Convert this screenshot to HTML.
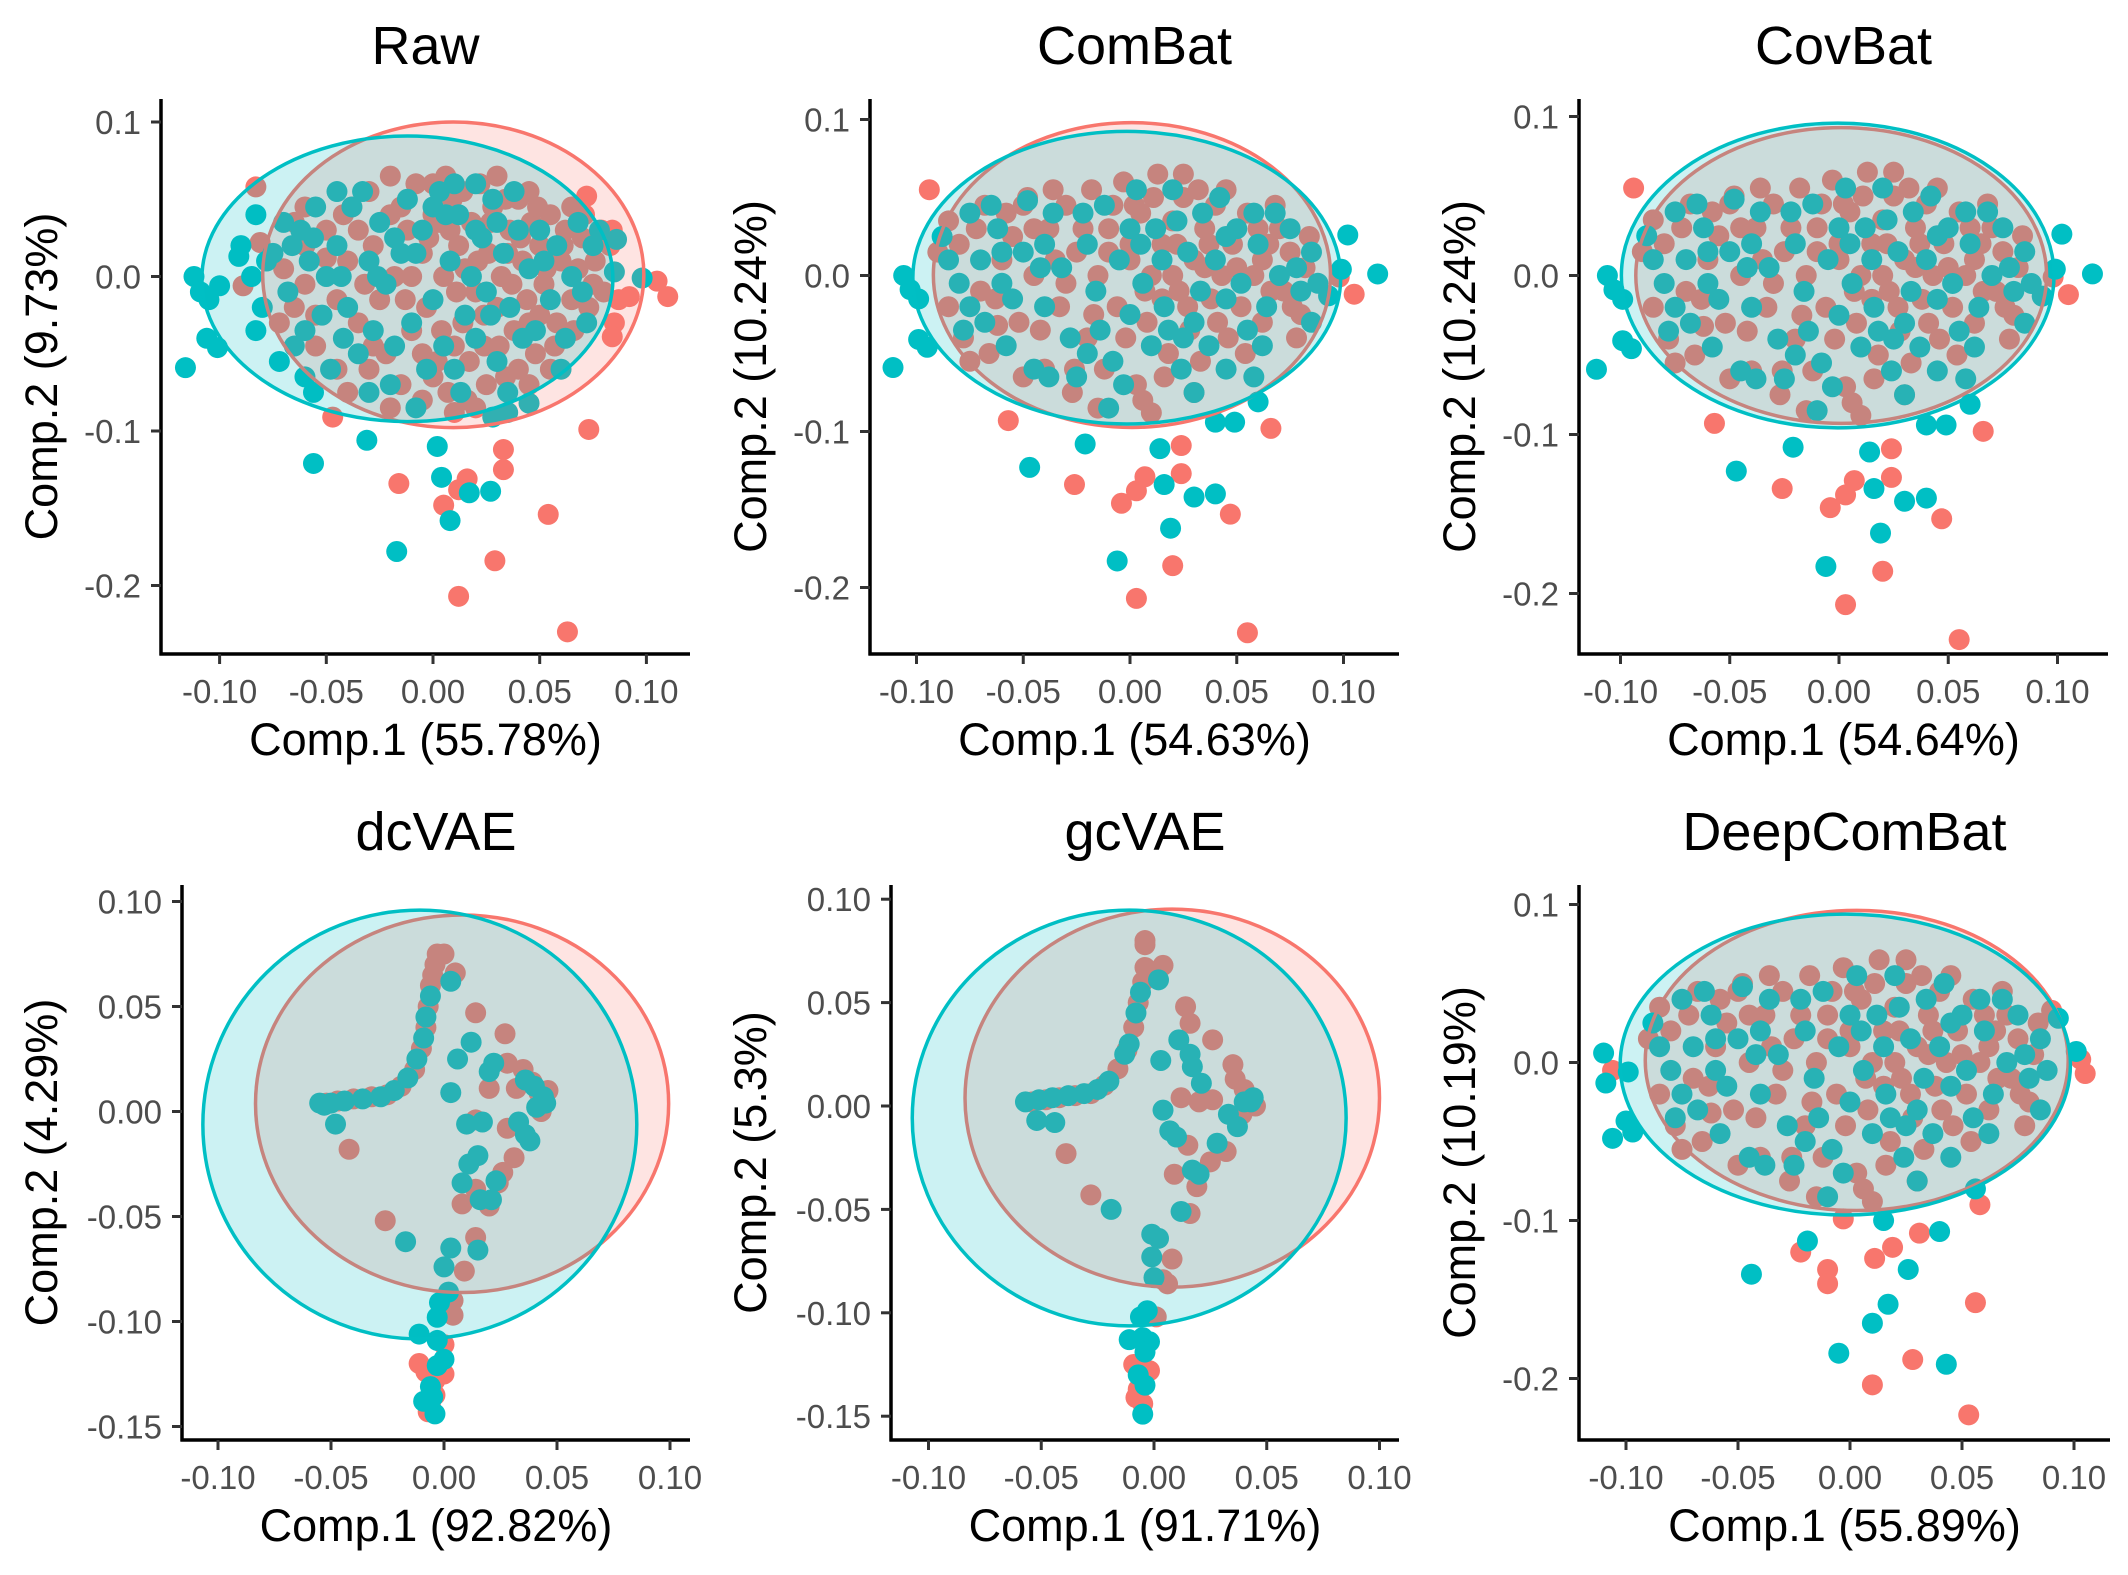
<!DOCTYPE html>
<html><head><meta charset="utf-8"><title>PCA panels</title>
<style>
html,body{margin:0;padding:0;background:#fff;}
svg{display:block;font-family:"Liberation Sans",Arial,sans-serif;}
</style></head>
<body>
<svg id="fig" xmlns="http://www.w3.org/2000/svg" width="2128" height="1575" viewBox="0 0 2128 1575">
<rect x="0" y="0" width="2128" height="1575" fill="#fff"/>
</svg>
<script>
// ---- tick data ----
const xTicks = [-0.10, -0.05, 0, 0.05, 0.10];
const xTickLabels = ["-0.10", "-0.05", "0.00", "0.05", "0.10"];
const yTicksA = [0.1, 0, -0.1, -0.2];
const yTickLabelsA = ["0.1", "0.0", "-0.1", "-0.2"];
const yTicksB = [0.10, 0.05, 0, -0.05, -0.10, -0.15];
const yTickLabelsB = ["0.10", "0.05", "0.00", "-0.05", "-0.10", "-0.15"];

// ---- ellipses [cx, cy, rx, ry] ----
const rawEllRed = [0.0095, 0.0011, 0.0893, 0.0989];
const rawEllTeal = [-0.012, -0.0015, 0.0963, 0.0924];
const cbEllRed = [0.0009, 0.0003, 0.093, 0.0977];
const cbEllTeal = [-0.0015, -0.0014, 0.1002, 0.0938];
const cvEllRed = [0.001, 0, 0.094, 0.093];
const cvEllTeal = [-0.0006, 0, 0.099, 0.0958];
const dcEllRed = [0.008, 0.0037, 0.0914, 0.0899];
const dcEllTeal = [-0.0107, -0.0062, 0.096, 0.1021];
const gcEllRed = [0.0081, 0.0038, 0.0919, 0.0914];
const gcEllTeal = [-0.011, -0.0058, 0.0962, 0.1005];
const dpEllRed = [0.003, 0.0013, 0.0944, 0.095];
const dpEllTeal = [-0.0021, -0.0013, 0.1005, 0.0952];

// ---- Raw points ----
const rawRed = [[-0.083,0.058],[-0.047,-0.091],[-0.016,-0.134],[0.005,-0.148],[0.012,-0.138],[0.016,-0.131],[0.033,-0.112],[0.033,-0.125],[0.029,-0.184],[0.012,-0.207],[0.063,-0.230],[0.054,-0.154],[0.073,-0.099],[0.072,0.052],[0.084,0.030],[0.105,-0.003],[0.110,-0.013],[0.092,-0.013],[0.087,-0.015],[0.085,-0.030],[0.084,-0.039],[-0.089,-0.006],[-0.081,0.022],
[-0.07,0.005],[-0.065,-0.02],[-0.06,0.02],[-0.072,-0.03],[-0.055,-0.045],[-0.05,0.03],[-0.045,-0.06],[-0.04,0.01],[-0.038,0.045],[-0.035,-0.03],[-0.03,0.055],[-0.028,0.02],[-0.025,-0.015],[-0.022,-0.05],[-0.02,0.04],[-0.018,0.0],[-0.015,-0.07],[-0.012,0.03],[-0.01,-0.035],[-0.008,0.06],[-0.005,0.015],[-0.003,-0.02],[0.0,0.04],[0.002,-0.055],[0.005,0.0],[0.007,-0.075],[0.009,0.05],[0.012,0.02],[0.014,-0.03],[0.016,-0.08],[0.018,0.035],[0.02,-0.01],[0.022,0.06],[0.024,-0.045],[0.026,0.015],[0.028,0.045],[0.03,-0.02],[0.032,0.0],[0.034,-0.065],[0.036,0.03],[0.038,-0.035],[0.04,0.05],[0.042,0.01],[0.044,-0.015],[0.046,0.035],[0.048,-0.05],[0.05,0.02],[0.052,-0.005],[0.055,0.04],[0.058,-0.03],[0.06,0.01],[0.062,0.03],[0.065,-0.015],[0.068,0.005],[0.07,0.025],[0.073,-0.02],[0.076,0.01],[0.08,-0.01],[0.083,0.02],[-0.06,-0.005],[-0.045,-0.015],[-0.035,0.03],[0.01,-0.045],[0.0,0.06],[-0.02,0.065],[0.045,0.055],[0.055,-0.06],[0.025,-0.07],[-0.005,-0.08],[0.065,0.045],[0.003,0.035],[0.015,0.005],[0.035,0.015],[-0.01,0.0],[0.05,-0.025],[-0.03,-0.06],[-0.05,0.012],
[-0.065,0.035],[-0.055,-0.025],[-0.042,0.04],[-0.032,-0.005],[-0.028,-0.045],[-0.015,0.045],[-0.013,-0.015],[-0.005,-0.05],[-0.002,0.025],[0.004,-0.035],[0.008,0.03],[0.011,-0.01],[0.014,0.055],[0.017,-0.055],[0.021,0.01],[0.024,-0.025],[0.027,0.035],[0.031,-0.045],[0.034,0.05],[0.037,-0.005],[0.041,0.025],[0.045,-0.03],[0.049,0.045],[0.053,0.005],[0.057,-0.045],[0.061,0.02],[0.066,-0.035],[0.071,0.04],[0.075,-0.005],[0.079,0.03],[0.006,0.065],[0.03,0.065],[-0.04,-0.075],[0.02,-0.085],[0.045,-0.07],[-0.06,0.045],[0.0,-0.065],[0.04,-0.06],[-0.02,-0.085],[0.01,-0.088]];
const rawTeal = [[-0.116,-0.059],[-0.112,0.0],[-0.109,-0.010],[-0.105,-0.015],[-0.100,-0.006],[-0.106,-0.040],[-0.101,-0.046],[-0.091,0.013],[-0.083,0.040],[-0.056,-0.121],[-0.031,-0.106],[-0.017,-0.178],[0.002,-0.110],[0.004,-0.130],[0.008,-0.158],[0.017,-0.140],[0.027,-0.139],[-0.056,-0.075],[0.045,-0.082],[0.098,-0.001],[0.085,0.003],[0.086,0.024],[0.028,-0.091],[0.035,-0.088],
[-0.085,0.0],[-0.08,-0.02],[-0.075,0.015],[-0.07,0.035],[-0.068,-0.01],[-0.062,0.03],[-0.06,-0.035],[-0.055,0.045],[-0.05,0.0],[-0.048,-0.06],[-0.045,0.02],[-0.04,-0.02],[-0.038,0.045],[-0.035,-0.05],[-0.03,0.01],[-0.028,-0.035],[-0.025,0.035],[-0.022,-0.005],[-0.02,-0.07],[-0.015,0.015],[-0.012,0.05],[-0.01,-0.03],[-0.008,-0.085],[-0.005,0.03],[0.0,-0.015],[0.003,0.055],[0.005,-0.045],[0.008,0.01],[0.01,-0.06],[0.012,0.04],[0.015,-0.025],[0.018,0.0],[0.02,-0.04],[0.023,0.025],[0.025,-0.01],[0.028,0.05],[0.03,-0.055],[0.033,0.015],[0.036,-0.02],[0.04,0.03],[0.042,-0.04],[0.045,0.005],[0.05,0.03],[0.055,-0.015],[0.058,0.02],[0.062,-0.04],[0.065,0.0],[0.07,-0.01],[0.075,0.02],[0.078,0.03],[-0.078,0.01],[-0.058,0.01],[-0.042,-0.04],[-0.018,0.025],[0.0,0.045],[0.02,0.06],[-0.03,-0.075],[0.035,-0.075],[-0.065,-0.045],[0.06,-0.06],
[-0.09,0.02],[-0.083,-0.035],[-0.072,-0.055],[-0.066,0.02],[-0.056,0.025],[-0.052,-0.025],[-0.043,0.0],[-0.033,0.055],[-0.026,0.0],[-0.018,-0.045],[-0.008,0.015],[-0.003,-0.06],[0.006,0.04],[0.013,-0.075],[0.02,0.03],[0.027,-0.025],[0.038,0.055],[0.048,-0.035],[0.052,0.01],[0.068,0.035],[0.072,-0.03],[-0.06,-0.065],[-0.045,0.055],[0.01,0.06],[0.03,0.035]];

// ---- ComBat-like cloud (ComBat / CovBat / DeepComBat) ----
const cbCloudRed = [[-0.09,0.015],[-0.085,-0.02],[-0.08,0.02],[-0.078,-0.04],[-0.072,0.03],[-0.07,-0.01],[-0.066,-0.05],[-0.06,0.01],[-0.058,0.04],[-0.052,-0.03],[-0.048,0.05],[-0.045,0.0],[-0.04,-0.06],[-0.038,0.03],[-0.033,-0.02],[-0.03,0.045],[-0.027,-0.075],[-0.025,0.015],[-0.02,-0.04],[-0.018,0.055],[-0.015,0.0],[-0.012,-0.06],[-0.01,0.03],[-0.006,-0.02],[-0.003,0.06],[0.0,0.01],[0.003,-0.07],[0.005,0.04],[0.008,-0.03],[0.01,0.0],[0.013,0.065],[0.015,0.02],[0.018,-0.05],[0.02,0.035],[0.023,-0.01],[0.025,0.05],[0.028,-0.035],[0.03,0.01],[0.033,-0.055],[0.035,0.03],[0.038,-0.015],[0.04,0.045],[0.043,0.0],[0.046,-0.04],[0.048,0.02],[0.052,-0.02],[0.055,0.04],[0.058,0.0],[0.062,-0.03],[0.065,0.02],[0.068,0.045],[0.072,-0.01],[0.075,0.015],[0.078,-0.04],[0.08,-0.025],[0.082,0.005],[-0.026,-0.06],[0.006,-0.08],[0.045,0.055],[-0.05,0.045],[0.0,0.02],[0.02,0.0],[0.035,0.005],[-0.035,0.01],[0.015,-0.015],[-0.062,-0.032],[0.062,0.01],
[-0.085,0.035],[-0.075,-0.055],[-0.068,0.045],[-0.063,-0.015],[-0.055,0.025],[-0.05,-0.065],[-0.042,-0.035],[-0.036,0.055],[-0.03,-0.005],[-0.022,0.03],[-0.017,-0.025],[-0.008,0.045],[-0.002,-0.04],[0.002,0.045],[0.007,-0.01],[0.011,0.05],[0.016,-0.065],[0.022,0.02],[0.027,-0.02],[0.032,0.055],[0.037,0.02],[0.041,-0.03],[0.05,0.005],[0.054,-0.05],[0.06,0.03],[0.066,-0.01],[0.07,0.03],[0.076,-0.02],[0.084,0.025],[0.01,-0.088],[-0.015,-0.085],[0.03,-0.075],[-0.045,0.03],[0.025,0.065],[-0.01,0.015]];
const cbCloudTeal = [[-0.085,0.01],[-0.08,-0.005],[-0.075,0.04],[-0.07,0.01],[-0.068,-0.03],[-0.062,0.03],[-0.058,-0.045],[-0.05,0.015],[-0.048,0.048],[-0.045,-0.06],[-0.04,-0.02],[-0.036,0.04],[-0.032,0.005],[-0.028,-0.04],[-0.025,-0.065],[-0.02,0.02],[-0.016,-0.01],[-0.012,0.045],[-0.008,-0.055],[-0.005,0.01],[0.0,-0.025],[0.003,0.055],[0.006,-0.005],[0.01,-0.045],[0.012,0.03],[0.016,-0.02],[0.02,0.055],[0.024,-0.06],[0.027,0.015],[0.03,-0.03],[0.034,0.04],[0.037,-0.045],[0.04,0.01],[0.045,-0.015],[0.05,0.03],[0.055,-0.035],[0.06,0.02],[0.064,-0.02],[0.07,0.0],[0.075,0.03],[0.08,-0.01],[0.085,0.015],[0.088,-0.005],[-0.02,-0.05],[0.0,0.03],[0.015,0.01],[-0.04,0.02],[0.025,-0.04],[-0.06,-0.005],[-0.075,-0.02],[0.058,0.04],[-0.01,-0.085],[0.045,-0.06],
[-0.088,0.025],[-0.078,-0.035],[-0.065,0.045],[-0.055,-0.015],[-0.042,0.005],[-0.038,-0.065],[-0.022,0.04],[-0.014,-0.035],[-0.003,-0.07],[0.005,0.02],[0.018,-0.035],[0.022,0.035],[0.033,-0.01],[0.042,0.05],[0.052,-0.005],[0.062,-0.045],[0.068,0.04],[0.078,0.005],[0.085,-0.03],[0.03,-0.075],[-0.06,0.015],[0.045,0.025]];
const cbOutRed = [[-0.094,0.055],[-0.057,-0.093],[-0.026,-0.134],[-0.004,-0.146],[0.003,-0.138],[0.007,-0.129],[0.024,-0.109],[0.024,-0.127],[0.020,-0.186],[0.003,-0.207],[0.055,-0.229],[0.047,-0.153],[0.066,-0.098],[0.105,-0.012],[0.098,-0.001]];
const cbOutTeal = [[-0.111,-0.059],[-0.106,0.0],[-0.103,-0.009],[-0.099,-0.015],[-0.099,-0.041],[-0.095,-0.046],[-0.047,-0.123],[-0.021,-0.108],[-0.006,-0.183],[0.014,-0.111],[0.016,-0.134],[0.019,-0.162],[0.030,-0.142],[0.040,-0.140],[0.040,-0.094],[0.049,-0.094],[0.060,-0.081],[0.058,-0.065],[0.102,0.026],[0.116,0.001],[0.099,0.004],[0.093,-0.013]];
const dpOutRed = [[-0.106,-0.005],[-0.022,-0.120],[-0.010,-0.131],[-0.010,-0.140],[-0.003,-0.099],[0.011,-0.124],[0.019,-0.117],[0.031,-0.108],[0.056,-0.152],[0.028,-0.188],[0.010,-0.204],[0.053,-0.223],[0.058,-0.090],[0.103,0.002],[0.105,-0.007],[0.090,0.033]];
const dpOutTeal = [[-0.110,0.006],[-0.109,-0.013],[-0.106,-0.048],[-0.100,-0.037],[-0.097,-0.044],[-0.099,-0.006],[-0.019,-0.113],[-0.044,-0.134],[-0.005,-0.184],[0.010,-0.165],[0.017,-0.153],[0.015,-0.100],[0.026,-0.131],[0.040,-0.107],[0.043,-0.191],[0.056,-0.080],[0.101,0.007],[0.093,0.028]];

// ---- dcVAE ----
const dcRed = [[-0.052,0.004],[-0.047,0.005],[-0.04,0.006],[-0.032,0.007],[-0.025,0.008],[-0.019,0.012],[-0.013,0.02],[-0.01,0.03],[-0.008,0.04],[-0.007,0.05],[-0.006,0.06],[-0.005,0.065],[-0.004,0.07],[-0.003,0.075],[0.0,0.075],[0.005,0.066],[-0.042,-0.018],[-0.026,-0.052],[0.014,0.047],[0.027,0.037],[0.028,0.023],[0.02,0.011],[0.032,0.011],[0.039,0.014],[0.042,0.009],[0.046,0.01],[0.028,-0.008],[0.031,-0.022],[0.026,-0.029],[0.024,-0.034],[0.014,-0.004],[0.014,-0.037],[0.008,-0.044],[0.02,-0.045],[0.014,-0.06],[0.009,-0.076],[0.004,-0.09],[0.004,-0.097],[0.0,-0.111],[-0.011,-0.12],[-0.008,-0.124],[-0.004,-0.128],[0.0,-0.125],[-0.004,-0.135],[-0.007,-0.143],[-0.006,-0.14],[0.035,0.02],[0.043,0.0]];
const dcTeal = [[-0.055,0.004],[-0.05,0.004],[-0.044,0.005],[-0.036,0.006],[-0.028,0.007],[-0.022,0.01],[-0.016,0.016],[-0.012,0.025],[-0.009,0.035],[-0.008,0.045],[-0.006,0.055],[0.003,0.062],[-0.053,0.003],[-0.048,-0.006],[-0.017,-0.062],[0.012,0.033],[0.006,0.025],[0.003,0.009],[0.02,0.019],[0.022,0.023],[0.036,0.015],[0.045,0.004],[0.041,0.002],[0.033,-0.005],[0.036,-0.011],[0.038,-0.014],[0.023,-0.033],[0.01,-0.006],[0.017,-0.005],[0.015,-0.021],[0.011,-0.025],[0.008,-0.034],[0.016,-0.042],[0.021,-0.042],[0.015,-0.066],[0.003,-0.065],[0.0,-0.074],[0.002,-0.086],[-0.002,-0.091],[-0.003,-0.098],[-0.011,-0.106],[-0.003,-0.109],[0.0,-0.118],[-0.003,-0.121],[-0.006,-0.131],[-0.009,-0.138],[-0.004,-0.144],[-0.005,-0.136],[0.044,0.007],[0.04,0.012]];

// ---- gcVAE ----
const gcRed = [[-0.054,0.002],[-0.048,0.003],[-0.042,0.004],[-0.035,0.005],[-0.028,0.006],[-0.022,0.01],[-0.016,0.018],[-0.012,0.027],[-0.009,0.038],[-0.007,0.05],[-0.005,0.06],[-0.004,0.067],[-0.004,0.078],[-0.004,0.08],[0.004,0.068],[-0.039,-0.023],[-0.028,-0.043],[0.014,0.048],[0.016,0.04],[0.026,0.032],[0.02,0.002],[0.026,0.003],[0.012,0.004],[0.035,0.02],[0.036,0.013],[0.045,0.0],[0.039,-0.004],[0.015,-0.019],[0.032,-0.022],[0.025,-0.027],[0.009,-0.033],[0.019,-0.039],[0.016,-0.052],[0.008,-0.074],[0.004,-0.084],[0.006,-0.086],[0.001,-0.102],[-0.009,-0.125],[-0.002,-0.128],[-0.008,-0.141],[-0.005,-0.144],[-0.007,-0.137],[0.04,0.008]];
const gcTeal = [[-0.057,0.002],[-0.051,0.003],[-0.045,0.004],[-0.038,0.005],[-0.031,0.006],[-0.025,0.008],[-0.02,0.012],[-0.013,0.025],[-0.011,0.03],[-0.008,0.045],[-0.006,0.055],[0.002,0.061],[-0.052,-0.007],[-0.044,-0.008],[-0.019,-0.05],[0.003,0.022],[0.011,0.032],[0.016,0.025],[0.017,0.019],[0.021,0.011],[0.004,-0.002],[0.044,0.004],[0.04,0.002],[0.033,-0.004],[0.037,-0.01],[0.007,-0.012],[0.01,-0.015],[0.028,-0.018],[0.017,-0.031],[0.02,-0.033],[0.012,-0.051],[-0.001,-0.062],[0.002,-0.064],[-0.001,-0.073],[0.0,-0.083],[-0.003,-0.099],[-0.006,-0.102],[-0.011,-0.113],[-0.005,-0.112],[-0.002,-0.114],[-0.004,-0.119],[-0.007,-0.130],[-0.004,-0.135],[-0.005,-0.149],[0.043,0.002]];

const RED = "#F8766D", TEAL = "#00BFC4";

const panels = [
 {id:"raw", title:"Raw", xt:"Comp.1 (55.78%)", yt:"Comp.2 (9.73%)", ox:0, left:161, right:690, top:99, bottom:654, x0:433, xs:2134, y0:276.5, ys:1545, yT:yTicksA, yL:yTickLabelsA, red:[rawRed], teal:[rawTeal], eR:rawEllRed, eT:rawEllTeal, tY:64},
 {id:"combat", title:"ComBat", xt:"Comp.1 (54.63%)", yt:"Comp.2 (10.24%)", ox:709, left:870, right:1399, top:99, bottom:654, x0:1130, xs:2135, y0:275.5, ys:1560, yT:yTicksA, yL:yTickLabelsA, red:[cbCloudRed, cbOutRed], teal:[cbCloudTeal, cbOutTeal], eR:cbEllRed, eT:cbEllTeal, tY:64},
 {id:"covbat", title:"CovBat", xt:"Comp.1 (54.64%)", yt:"Comp.2 (10.24%)", ox:1418, left:1579, right:2108, top:99, bottom:654, x0:1839, xs:2185, y0:275.5, ys:1590, yT:yTicksA, yL:yTickLabelsA, red:[cbCloudRed, cbOutRed], teal:[cbCloudTeal, cbOutTeal], eR:cvEllRed, eT:cvEllTeal, tY:64},
 {id:"dcvae", title:"dcVAE", xt:"Comp.1 (92.82%)", yt:"Comp.2 (4.29%)", ox:0, left:182, right:690, top:885, bottom:1440, x0:444, xs:2260, y0:1111.5, ys:2100, yT:yTicksB, yL:yTickLabelsB, red:[dcRed], teal:[dcTeal], eR:dcEllRed, eT:dcEllTeal, tY:850},
 {id:"gcvae", title:"gcVAE", xt:"Comp.1 (91.71%)", yt:"Comp.2 (5.3%)", ox:709, left:891, right:1399, top:885, bottom:1440, x0:1154, xs:2255, y0:1106, ys:2068, yT:yTicksB, yL:yTickLabelsB, red:[gcRed], teal:[gcTeal], eR:gcEllRed, eT:gcEllTeal, tY:850},
 {id:"deepcombat", title:"DeepComBat", xt:"Comp.1 (55.89%)", yt:"Comp.2 (10.19%)", ox:1418, left:1579, right:2110, top:885, bottom:1440, x0:1850, xs:2240, y0:1062.5, ys:1580, yT:yTicksA, yL:yTickLabelsA, red:[cbCloudRed, dpOutRed], teal:[cbCloudTeal, dpOutTeal], eR:dpEllRed, eT:dpEllTeal, tY:850}
];

const NS = "http://www.w3.org/2000/svg";
const svg = document.getElementById("fig");
function mk(tag, attrs, parent){
  const e = document.createElementNS(NS, tag);
  for (const k in attrs) e.setAttribute(k, attrs[k]);
  parent.appendChild(e);
  return e;
}

panels.forEach(p => {
  const sx = v => p.x0 + v * p.xs;
  const sy = v => p.y0 - v * p.ys;
  const g = mk("g", {}, svg);
  
  

  const pts = mk("g", {}, g);
  
  
  p.red.forEach(arr => arr.forEach(d => {
    const c = mk("circle", {cx: sx(d[0]), cy: sy(d[1]), r: 10.5, fill: RED}, pts);
    
    
  }));
  p.teal.forEach(arr => arr.forEach(d => {
    const c = mk("circle", {cx: sx(d[0]), cy: sy(d[1]), r: 10.5, fill: TEAL}, pts);
    
    
  }));

  const er = mk("ellipse", {cx: sx(p.eR[0]), cy: sy(p.eR[1]), rx: p.eR[2]*p.xs, ry: p.eR[3]*p.ys, fill: RED, "fill-opacity": 0.2, stroke: RED, "stroke-width": 3.5}, g);
  
  
  const et = mk("ellipse", {cx: sx(p.eT[0]), cy: sy(p.eT[1]), rx: p.eT[2]*p.xs, ry: p.eT[3]*p.ys, fill: TEAL, "fill-opacity": 0.2, stroke: TEAL, "stroke-width": 3.5}, g);
  
  

  const ya = mk("line", {x1: p.left, y1: p.top, x2: p.left, y2: p.bottom + 1.5, stroke: "#000", "stroke-width": 3.5}, g);
  
  
  const xa = mk("line", {x1: p.left - 1.5, y1: p.bottom, x2: p.right, y2: p.bottom, stroke: "#000", "stroke-width": 3.5}, g);
  
  

  xTicks.forEach((v, i) => {
    const x = sx(v);
    const t = mk("line", {x1: x, y1: p.bottom, x2: x, y2: p.bottom + 10, stroke: "#333", "stroke-width": 3}, g);
    
    
    const l = mk("text", {x: x, y: p.bottom + 49, "text-anchor": "middle", "font-size": 33, fill: "#4D4D4D"}, g);
    l.textContent = xTickLabels[i];
    
    
  });
  p.yT.forEach((v, i) => {
    const y = sy(v);
    const t = mk("line", {x1: p.left - 10, y1: y, x2: p.left, y2: y, stroke: "#333", "stroke-width": 3}, g);
    
    
    const l = mk("text", {x: p.left - 20, y: y + 12, "text-anchor": "end", "font-size": 33, fill: "#4D4D4D"}, g);
    l.textContent = p.yL[i];
    
    
  });

  const cx = (p.left + p.right) / 2;
  const ttl = mk("text", {x: cx, y: p.tY, "text-anchor": "middle", "font-size": 54, fill: "#000"}, g);
  ttl.textContent = p.title;
  
  

  const xt = mk("text", {x: cx, y: p.bottom + 101, "text-anchor": "middle", "font-size": 45, fill: "#000"}, g);
  xt.textContent = p.xt;
  
  

  const cy = (p.top + p.bottom) / 2;
  const yx = p.ox + 57;
  const yt = mk("text", {x: yx, y: cy, "text-anchor": "middle", "font-size": 45, fill: "#000", transform: "rotate(-90 " + yx + " " + cy + ")"}, g);
  yt.textContent = p.yt;
  
  
});
</script>
</body></html>
